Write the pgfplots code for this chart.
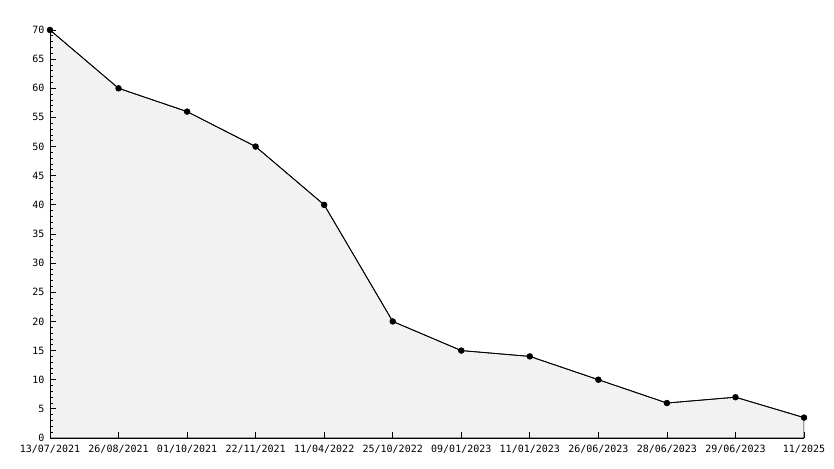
\documentclass[border=0pt]{standalone}
\usepackage{fontspec}
\setmainfont{DejaVu Sans Mono}
\usepackage{pgfplots}
\pgfplotsset{compat=1.18}
\definecolor{fillgray}{HTML}{F2F2F2}
\definecolor{gridgray}{HTML}{DCDCDC}
\pgfplotsset{common/.style={at={(0,0)}, anchor=south west, scale only axis,
  width=754pt, height=408pt,
  xmin=0, xmax=11, ymin=0, ymax=70,
  xtick={0,...,11}, ytick={0,5,...,70}}}
\begin{document}
\begin{tikzpicture}[x=1pt,y=1pt]
\begin{axis}[common,
  axis lines=none,
  xticklabels={}, yticklabels={},
  ymajorgrids, grid style={gridgray, line width=0.8pt},
]
\addplot[fill=fillgray, draw=black, line width=0.8pt] coordinates {
(0,70) (1,60) (2,56) (3,50) (4,40) (5,20) (6,15) (7,14) (8,10) (9,6) (10,7) (11,3.5)
} \closedcycle;
\addplot[black, line width=0.8pt, mark=*, mark size=2.8pt] coordinates {
(0,70) (1,60) (2,56) (3,50) (4,40) (5,20) (6,15) (7,14) (8,10) (9,6) (10,7) (11,3.5)
};
\end{axis}
\begin{axis}[common,
  axis lines=left, axis line style={-, line width=1pt, black},
  xticklabels={13/07/2021,26/08/2021,01/10/2021,22/11/2021,11/04/2022,25/10/2022,09/01/2023,11/01/2023,26/06/2023,28/06/2023,29/06/2023,11/2025},
  minor y tick num=4,
  tick align=inside,
  major tick length=6pt, minor tick length=3.5pt,
  tick style={black, line width=0.8pt},
  ticklabel style={font=\fontsize{10}{12}\selectfont},
  xticklabel style={yshift=-4pt},
  yticklabel style={xshift=-2pt},
  /pgf/number format/assume math mode=true,
]
\end{axis}
\path (-50,-30) rectangle (784,438);
\end{tikzpicture}
\end{document}
